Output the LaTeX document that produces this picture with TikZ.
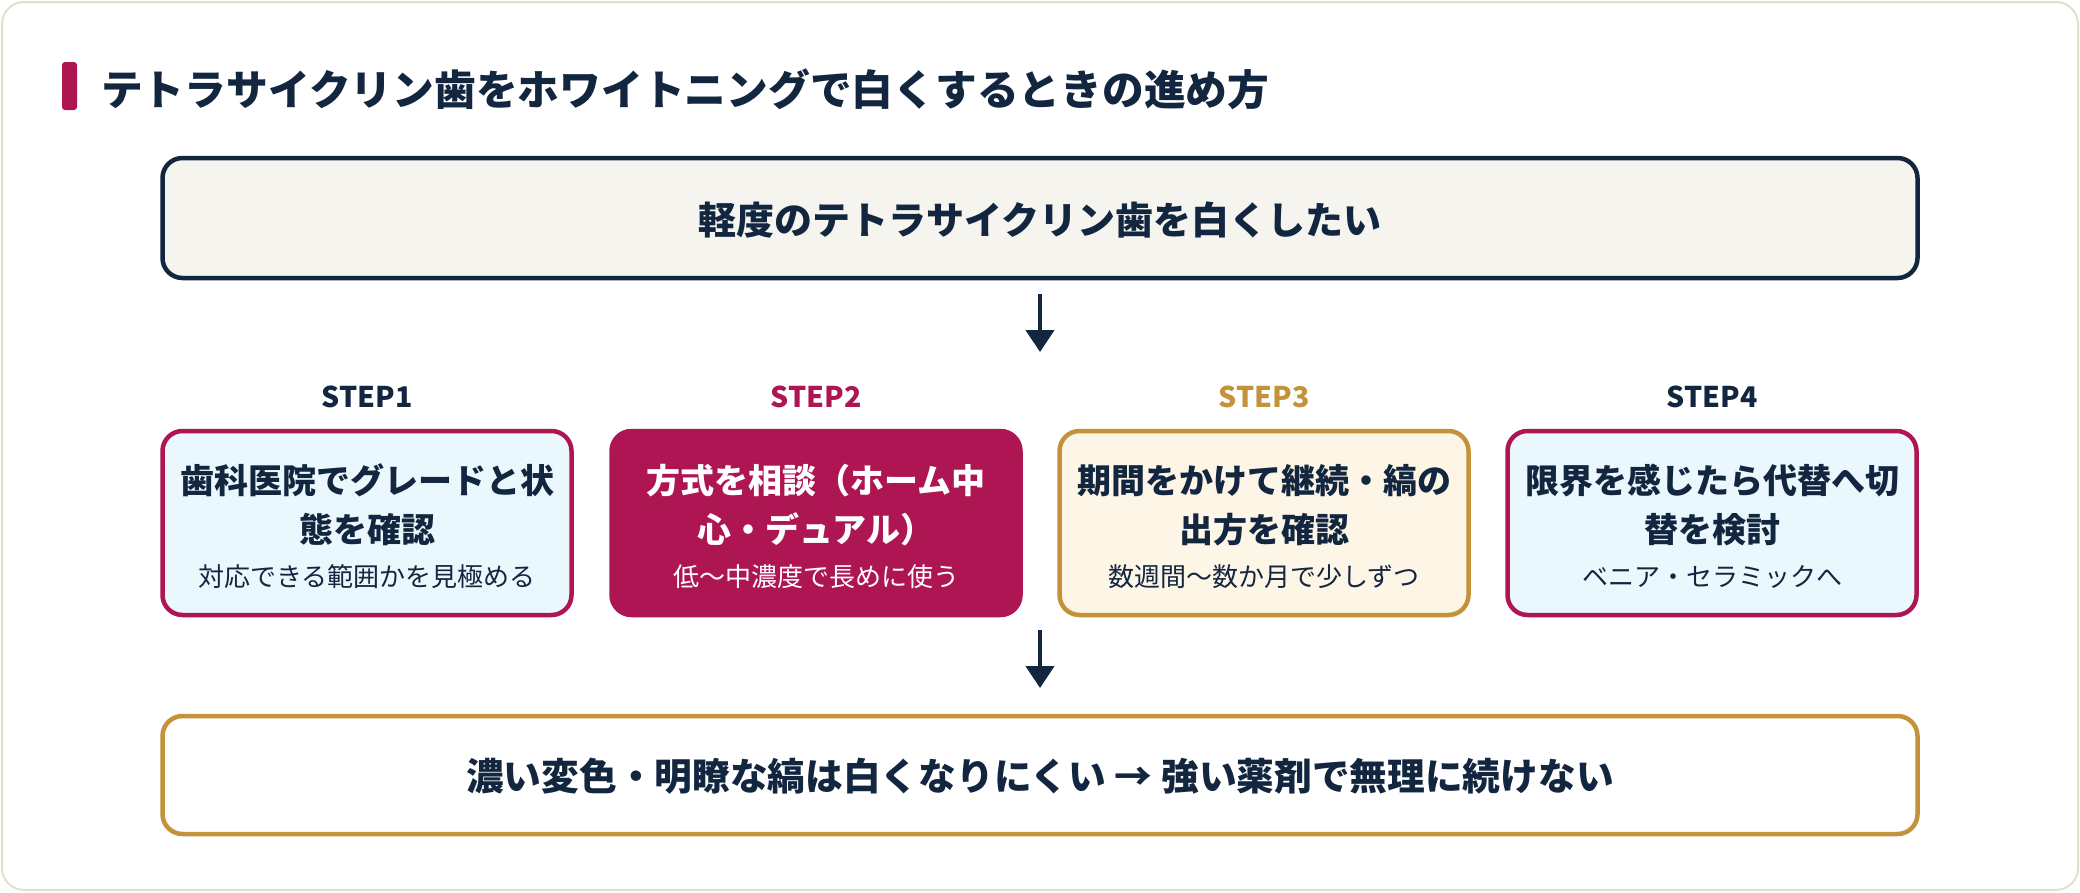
\documentclass[tikz,border=0pt]{standalone}
\usepackage{fontspec}
\setmainfont{Noto Sans CJK JP}
\usetikzlibrary{arrows.meta}
\definecolor{navy}{HTML}{13263F}
\definecolor{crim}{HTML}{AD1652}
\definecolor{gold}{HTML}{C4923A}
\definecolor{lblue}{HTML}{EAF7FC}
\definecolor{cream}{HTML}{FDF5E6}
\definecolor{topfill}{HTML}{F5F4EF}
\definecolor{frame}{HTML}{E2DFCF}
\tikzset{
  box/.style={rounded corners=20pt, line width=4.5pt, inner sep=0pt},
  stepbox/.style={box, minimum width=409pt, minimum height=184pt},
  flowarrow/.style={draw=navy, line width=4.5pt, -{Triangle[length=22pt,width=28pt]}},
  fs/.style={font=\fontsize{#1}{#1}\selectfont\bfseries},
  steplbl/.style={anchor=base, inner sep=0pt, font=\fontsize{28.5}{28.5}\selectfont\bfseries},
  mainline/.style={anchor=base, inner sep=0pt, text=navy, font=\fontsize{34}{34}\selectfont\bfseries},
  subline/.style={anchor=base, inner sep=0pt, text=navy, font=\fontsize{26}{26}\selectfont},
}
\begin{document}
\begin{tikzpicture}[x=1pt,y=-1pt]
\useasboundingbox (0,0) rectangle (2080,892);
\draw[frame, fill=white, line width=2pt, rounded corners=22pt] (2,2) rectangle (2078,890);
% title
\fill[crim, rounded corners=3pt] (62,62) rectangle (77,110);
\node[anchor=base west, inner sep=0pt, text=navy, fs=41.75] (title) at (101,105) {テトラサイクリン歯をホワイトニングで白くするときの進め方};
% top box
\node[box, draw=navy, fill=topfill, minimum width=1755pt, minimum height=120pt] (top) at (1040,218) {};
\node[anchor=base, inner sep=0pt, text=navy, fs=38] (toptext) at (1040,234) {軽度のテトラサイクリン歯を白くしたい};
% steps
\node[stepbox, draw=crim, fill=lblue] (s1) at (367,523) {};
\node[stepbox, draw=crim, fill=crim] (s2) at (816,523) {};
\node[stepbox, draw=gold, fill=cream] (s3) at (1264,523) {};
\node[stepbox, draw=crim, fill=lblue] (s4) at (1712,523) {};
\node[steplbl, text=navy] (l1) at (367,407) {STEP1};
\node[steplbl, text=crim] (l2) at (816,407) {STEP2};
\node[steplbl, text=gold] (l3) at (1264,407) {STEP3};
\node[steplbl, text=navy] (l4) at (1712,407) {STEP4};
\node[mainline] (s1a) at (367,493) {歯科医院でグレードと状};
\node[mainline] (s1b) at (367,542) {態を確認};
\node[subline] (s1c) at (367,586) {対応できる範囲かを見極める};
\node[mainline, text=white] (s2a) at (816,493) {方式を相談（ホーム中};
\node[mainline, text=white] (s2b) at (816,542) {心・デュアル）};
\node[subline, text=white] (s2c) at (816,586) {低〜中濃度で長めに使う};
\node[mainline] (s3a) at (1264,493) {期間をかけて継続・縞の};
\node[mainline] (s3b) at (1264,542) {出方を確認};
\node[subline] (s3c) at (1264,586) {数週間〜数か月で少しずつ};
\node[mainline] (s4a) at (1712,493) {限界を感じたら代替へ切};
\node[mainline] (s4b) at (1712,542) {替を検討};
\node[subline] (s4c) at (1712,586) {ベニア・セラミックへ};
% bottom box
\node[box, draw=gold, fill=white, minimum width=1755pt, minimum height=118pt] (bot) at (1040,775) {};
\node[anchor=base, inner sep=0pt, text=navy, fs=37.7] (bottext) at (1040,790) {濃い変色・明瞭な縞は白くなりにくい → 強い薬剤で無理に続けない};
% arrows
\coordinate (a1s) at (1040,294);
\coordinate (a1e) at (1040,352);
\coordinate (a2s) at (1040,630);
\coordinate (a2e) at (1040,688);
\draw[flowarrow] (a1s) -- (a1e);
\draw[flowarrow] (a2s) -- (a2e);
\end{tikzpicture}
\end{document}
